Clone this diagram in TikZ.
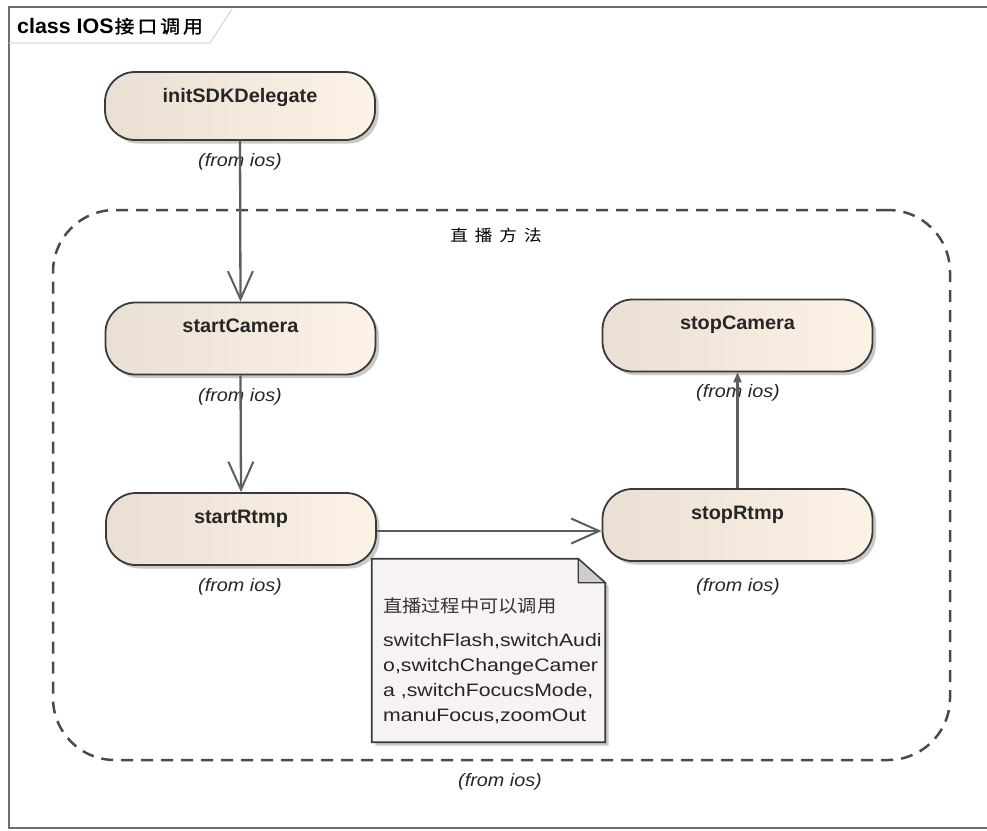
\documentclass[tikz,border=0pt]{standalone}
\usepackage{fontspec}
\setmainfont{Liberation Sans}
\newfontfamily\boldfont[FakeStretch=1.02]{Liberation Sans}
\newfontfamily\notefont[FakeStretch=1.18]{Liberation Sans}
\newfontfamily\fromfont[FakeStretch=1.1]{Liberation Sans}
\newfontfamily\cjk[FakeStretch=1.1,AutoFakeBold=1.5]{Noto Sans CJK SC}
\usetikzlibrary{arrows.meta,shadows}
\definecolor{nodeL}{HTML}{E9DFD2}
\definecolor{nodeR}{HTML}{FCF3E6}
\definecolor{bordc}{HTML}{3A3A3A}
\definecolor{connc}{HTML}{5E5E5E}
\definecolor{dashc}{HTML}{4A4A4A}
\definecolor{notec}{HTML}{F6F2F6}
\definecolor{foldc}{HTML}{CFCBD0}
\definecolor{framec}{HTML}{6E6E6E}
\definecolor{tabc}{HTML}{DADADA}
\tikzset{
  actbox/.style={draw=bordc, line width=1.8pt, rounded corners=30pt,
    left color=nodeL, right color=nodeR, minimum width=270pt, minimum height=72pt,
    inner sep=0pt,
    drop shadow={shadow xshift=3.5pt, shadow yshift=-3.5pt, fill=black!35, opacity=0.6}},
  acttxt/.style={anchor=base, inner sep=0pt, font=\boldfont\fontsize{19.5}{22}\selectfont\bfseries, text=black!85},
  fromtxt/.style={inner sep=0pt, font=\fromfont\fontsize{18}{20}\selectfont\itshape, text=black!85},
  conn/.style={draw=connc, line width=2.3pt},
  openv/.style={-{Straight Barb[length=28pt,width=25pt,line width=2pt]}},
  smallhead/.style={-{Triangle[length=10pt,width=8pt]}},
}
\begin{document}
\begin{tikzpicture}[x=1pt,y=-1pt]
\useasboundingbox (0,0) rectangle (987,830);
\fill[white] (0,0) rectangle (987,830);
% outer frame
\draw[framec, line width=2pt] (992,7) -- (9,7) -- (9,828) -- (992,828);
\draw[tabc, line width=1.2pt] (9,43) -- (210,43) -- (232,9);
\node[anchor=base west, inner sep=0pt, font=\boldfont\fontsize{21}{24}\selectfont\bfseries] (title) at (17,33)
  {class IOS\hspace{1pt}{\cjk\fontsize{18}{24}\selectfont\bfseries 接\hspace{3pt}口\hspace{3pt}调\hspace{3pt}用}};
% group
\node[draw=dashc, line width=2.5pt, dash pattern=on 12pt off 8pt, rounded corners=62pt,
  minimum width=897pt, minimum height=550pt, inner sep=0pt] (group) at (501.5,485) {};
\node[inner sep=0pt, font=\cjk\fontsize{16}{20}\selectfont] (grouplbl) at (496,235)
  {直\hspace{7pt}播\hspace{7pt}方\hspace{7pt}法};
\node[fromtxt] (groupfrom) at (500,782) {(from ios)};
% activity nodes
\node[actbox, minimum height=68pt] (init) at (240,106) {};
\node[acttxt] at ([yshift=-31pt]init.north) {initSDKDelegate};
\node[fromtxt] (initfrom) at (240,162) {(from ios)};

\node[actbox] (scam) at (240.5,338.5) {};
\node[acttxt] at ([yshift=-31pt]scam.north) {startCamera};
\node[fromtxt] (scamfrom) at (240,397) {(from ios)};

\node[actbox] (srtmp) at (241,529) {};
\node[acttxt] at ([yshift=-31pt]srtmp.north) {startRtmp};
\node[fromtxt] (srtmpfrom) at (240,587) {(from ios)};

\node[actbox] (stopcam) at (737.5,335.5) {};
\node[acttxt] at ([yshift=-31pt]stopcam.north) {stopCamera};
\node[fromtxt] (stopcamfrom) at (738,393) {(from ios)};

\node[actbox] (stoprtmp) at (737.5,525) {};
\node[acttxt] at ([yshift=-31pt]stoprtmp.north) {stopRtmp};
\node[fromtxt] (stoprtmpfrom) at (738,587) {(from ios)};

% note
\node[minimum width=233pt, minimum height=183pt, inner sep=0pt] (note) at (488.5,650.5) {};
\path[draw=bordc, line width=1.8pt, fill=notec,
  drop shadow={shadow xshift=3.5pt, shadow yshift=-3.5pt, fill=black!35, opacity=0.6}]
  (note.north west) -- ([xshift=-27pt]note.north east) -- ([yshift=-24pt]note.north east)
  -- (note.south east) -- (note.south west) -- cycle;
\path[draw=bordc, line width=1.2pt, fill=foldc]
  ([xshift=-27pt]note.north east) -- ([xshift=-27pt,yshift=-24pt]note.north east)
  -- ([yshift=-24pt]note.north east) -- cycle;
\node[anchor=base west, inner sep=0pt, font=\cjk\fontsize{17.5}{20}\selectfont, text=black!80] (notehead) at (383,612)
  {直播过程中可以调用};
\node[anchor=north west, inner sep=0pt, align=left, font=\notefont\fontsize{18}{25}\selectfont, text=black!85] (notebody) at (383,633)
  {switchFlash,switchAudi\\o,switchChangeCamer\\a ,switchFocucsMode,\\manuFocus,zoomOut};

% connectors
\draw[conn, openv] (init.south) -- (scam.north);
\draw[conn, openv] (scam.south) -- (srtmp.north);
\draw[conn, openv] ([yshift=-2pt]srtmp.east) -- ([yshift=-2pt]srtmp.east -| stoprtmp.west);
\draw[conn, smallhead] (stoprtmp.north) -- (stopcam.south);
\end{tikzpicture}
\end{document}
